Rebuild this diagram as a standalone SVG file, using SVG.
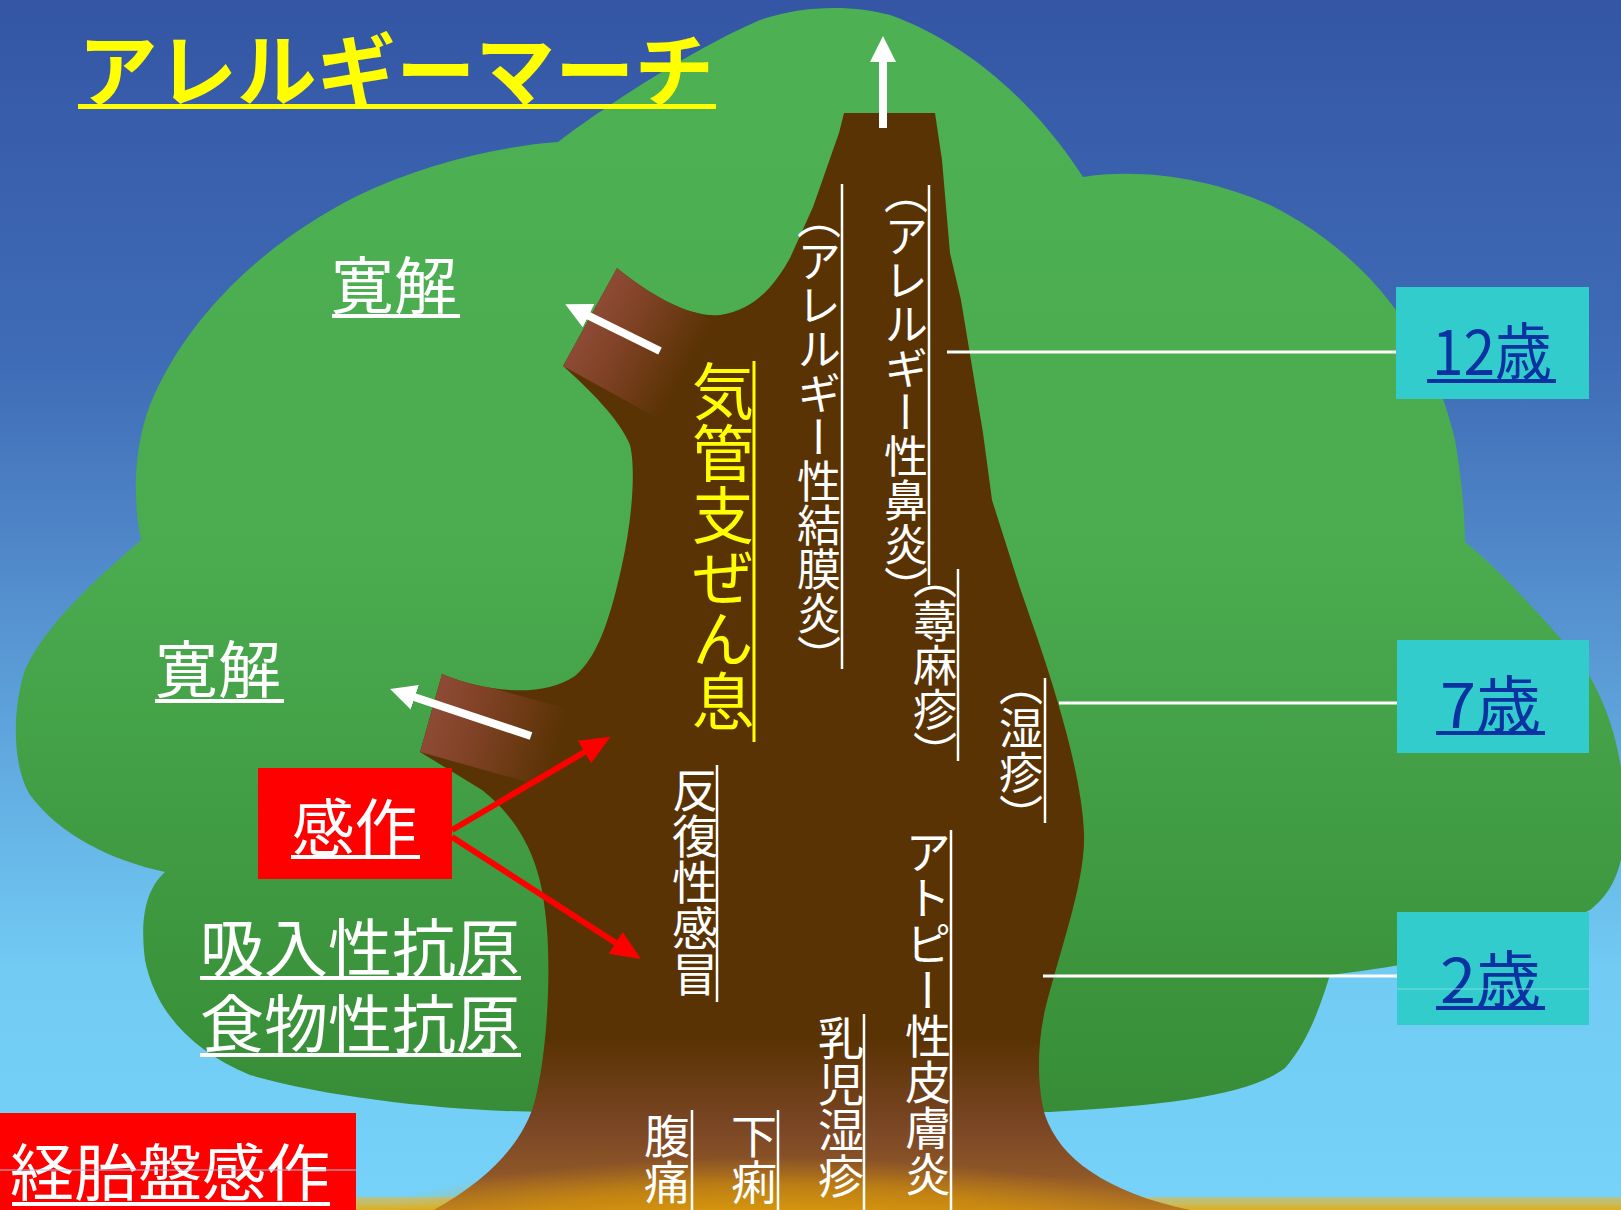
<svg xmlns="http://www.w3.org/2000/svg" width="1621" height="1210" viewBox="0 0 1621 1210">
  <style>
    .jp { font-family: "Noto Sans CJK JP", "Noto Sans", sans-serif; }
    .wt { fill: #ffffff; }
    .vt { font-family: "Noto Sans CJK JP", sans-serif; fill: #ffffff; font-size: 44px; writing-mode: vertical-rl; font-feature-settings: "vhal" 1; }
    .vrule { stroke: #ffffff; stroke-width: 2.5; }
    .age-box { fill: #33cccc; }
    .age-txt { font-family: "Noto Sans CJK JP", sans-serif; fill: #0a32a0; font-size: 62px; }
    .age-ul { fill: #0a32a0; }
    .ul-w { fill: #ffffff; }
    .lead { stroke: #ffffff; stroke-width: 3; }
    .red-arrow { stroke: #ff0000; stroke-width: 6; fill: none; }
    .white-arrow { stroke: #ffffff; stroke-width: 8; fill: none; }
  </style>
  <defs>
    <linearGradient id="sky" x1="0" y1="0" x2="0" y2="1210" gradientUnits="userSpaceOnUse">
      <stop offset="0" stop-color="#3456a4"/>
      <stop offset="0.3" stop-color="#3f6cb6"/>
      <stop offset="0.5" stop-color="#5590cf"/>
      <stop offset="0.66" stop-color="#64b0e4"/>
      <stop offset="0.8" stop-color="#71cbf3"/>
      <stop offset="1" stop-color="#76d2f8"/>
    </linearGradient>
    <linearGradient id="leaf" x1="0" y1="0" x2="0" y2="1115" gradientUnits="userSpaceOnUse">
      <stop offset="0" stop-color="#4db153"/>
      <stop offset="0.5" stop-color="#4aab4f"/>
      <stop offset="0.78" stop-color="#3f9a41"/>
      <stop offset="1" stop-color="#378d37"/>
    </linearGradient>
    <linearGradient id="bark" x1="0" y1="0" x2="0" y2="1210" gradientUnits="userSpaceOnUse">
      <stop offset="0" stop-color="#5a3304"/>
      <stop offset="0.86" stop-color="#5a3304"/>
      <stop offset="0.93" stop-color="#7a4624"/>
      <stop offset="0.97" stop-color="#8e5628"/>
      <stop offset="1" stop-color="#b87a20"/>
    </linearGradient>
    <!-- reddish cut ends of the branches fading into the bark -->
    <linearGradient id="branchUp" x1="590" y1="317" x2="686" y2="370" gradientUnits="userSpaceOnUse">
      <stop offset="0" stop-color="#8e4a36"/>
      <stop offset="0.35" stop-color="#804226"/>
      <stop offset="1" stop-color="#5a3304"/>
    </linearGradient>
    <linearGradient id="branchLow" x1="431" y1="713" x2="556" y2="748" gradientUnits="userSpaceOnUse">
      <stop offset="0" stop-color="#8e4a36"/>
      <stop offset="0.35" stop-color="#804226"/>
      <stop offset="1" stop-color="#5a3304"/>
    </linearGradient>
    <radialGradient id="glow" cx="770" cy="1225" r="400" gradientUnits="userSpaceOnUse" gradientTransform="translate(770 1225) scale(1 0.17) translate(-770 -1225)">
      <stop offset="0" stop-color="#f0b000" stop-opacity="0.9"/>
      <stop offset="0.6" stop-color="#e2a000" stop-opacity="0.65"/>
      <stop offset="1" stop-color="#e2a000" stop-opacity="0"/>
    </radialGradient>
    <linearGradient id="ground" x1="0" y1="1197" x2="0" y2="1210" gradientUnits="userSpaceOnUse">
      <stop offset="0" stop-color="#b6c38e"/>
      <stop offset="0.5" stop-color="#c8bc60"/>
      <stop offset="1" stop-color="#dcb020"/>
    </linearGradient>
    <path id="trunkShape" d="M 844,113 L 935,113 L 942,160 L 950,253 L 961,300 L 983,433 L 992,500 L 1020,588 L 1038,640
      C 1060,705 1082,780 1084,833 C 1086,880 1060,950 1045,1010 C 1036,1050 1038,1090 1045,1115
      C 1060,1160 1110,1195 1200,1212 L 430,1212 C 490,1180 525,1140 535,1100 C 548,1050 552,960 545,911
      C 540,860 520,820 482,790 L 420,752 L 442,674 C 480,690 540,700 575,676 C 600,655 612,610 622,565
      C 632,520 636,470 630,445 C 620,420 590,390 563,366 L 617,268 C 650,295 690,318 720,315
      C 755,310 775,285 790,258 L 813,207 L 833,150 L 839,133 Z"/>
    <clipPath id="trunkClip"><use href="#trunkShape"/></clipPath>
    <marker id="headRed" viewBox="0 0 30 26" refX="4" refY="13" markerWidth="30" markerHeight="26" markerUnits="userSpaceOnUse" orient="auto">
      <path d="M0,0 L30,13 L0,26 Z" fill="#ff0000"/>
    </marker>
    <marker id="headWhite" viewBox="0 0 26 26" refX="4" refY="13" markerWidth="26" markerHeight="26" markerUnits="userSpaceOnUse" orient="auto">
      <path d="M0,0 L26,13 L0,26 Z" fill="#ffffff"/>
    </marker>
  </defs>

  <!-- sky -->
  <rect x="0" y="0" width="1621" height="1210" fill="url(#sky)"/>

  <!-- crown of the tree -->
  <g id="canopy">
    <path fill="url(#leaf)" d="M 545,1112
      C 450,1111 330,1098 250,1075 C 190,1050 155,1010 145,960 C 140,920 145,890 165,872
      C 110,860 60,835 30,795 C 12,765 12,710 25,670 C 45,625 95,580 141,540
      C 133,500 133,450 150,405 C 185,320 260,245 357,196 C 420,165 500,146 558,142
      C 600,110 690,50 760,20 C 800,6 850,4 890,15 C 960,40 1030,95 1083,177
      C 1140,168 1210,178 1270,205 C 1360,250 1430,330 1455,440 C 1462,480 1465,520 1465,542
      C 1500,570 1540,615 1575,655 C 1610,700 1625,760 1625,820 C 1625,870 1610,895 1590,910
      C 1530,940 1440,962 1330,975 C 1322,1000 1310,1040 1285,1068 C 1250,1095 1170,1105 1050,1112 Z"/>
  </g>

  <!-- ground and glow at the trunk base -->
  <rect x="0" y="1197" width="1621" height="13" fill="url(#ground)"/>
  <ellipse cx="770" cy="1225" rx="430" ry="70" fill="url(#glow)"/>

  <!-- trunk with two cut branches -->
  <g id="trunk">
    <use href="#trunkShape" fill="url(#bark)"/>
    <g clip-path="url(#trunkClip)">
      <polygon points="617,268 563,366 686,434 740,336" fill="url(#branchUp)"/>
      <polygon points="442,674 420,752 574,795 596,717" fill="url(#branchLow)"/>
      <ellipse cx="770" cy="1225" rx="430" ry="70" fill="url(#glow)" opacity="0.7"/>
    </g>
  </g>

  <!-- title -->
  <g id="title">
    <text class="jp" x="78" y="100" font-size="80" font-weight="bold" fill="#ffff00" textLength="636" lengthAdjust="spacingAndGlyphs">アレルギーマーチ</text>
    <rect x="78" y="104" width="638" height="5" fill="#ffff00"/>
  </g>

  <!-- connectors -->
  <g id="connectors">
    <line class="lead" x1="947" y1="352" x2="1396" y2="352"/>
    <line class="lead" x1="1059" y1="703" x2="1397" y2="703"/>
    <line class="lead" x1="1043" y1="976" x2="1397" y2="976"/>
    <line class="white-arrow" x1="883" y1="128" x2="883" y2="58" marker-end="url(#headWhite)"/>
    <line class="white-arrow" x1="660" y1="351" x2="585" y2="314" marker-end="url(#headWhite)"/>
    <line class="white-arrow" x1="531" y1="736" x2="411" y2="696" marker-end="url(#headWhite)"/>
    <line class="red-arrow" x1="452" y1="830" x2="588" y2="750" marker-end="url(#headRed)"/>
    <line class="red-arrow" x1="452" y1="837" x2="619" y2="945" marker-end="url(#headRed)"/>
  </g>

  <!-- remission labels -->
  <g id="remission-upper">
    <text class="jp wt" x="331" y="309" font-size="62" textLength="126" lengthAdjust="spacingAndGlyphs">寛解</text>
    <rect class="ul-w" x="332" y="314" width="128" height="4"/>
  </g>
  <g id="remission-lower">
    <text class="jp wt" x="155" y="693" font-size="62" textLength="126" lengthAdjust="spacingAndGlyphs">寛解</text>
    <rect class="ul-w" x="155" y="699" width="129" height="4"/>
  </g>

  <!-- sensitisation box -->
  <g id="sensitization">
    <rect x="258" y="768" width="194" height="111" fill="#ff0000"/>
    <text class="jp wt" x="292" y="851" font-size="62" textLength="125" lengthAdjust="spacingAndGlyphs">感作</text>
    <rect class="ul-w" x="291" y="855" width="129" height="4"/>
  </g>

  <!-- antigens -->
  <g id="antigens">
    <text class="jp wt" x="200" y="971" font-size="63" textLength="320" lengthAdjust="spacingAndGlyphs">吸入性抗原</text>
    <rect class="ul-w" x="200" y="976" width="321" height="4"/>
    <text class="jp wt" x="200" y="1047" font-size="63" textLength="320" lengthAdjust="spacingAndGlyphs">食物性抗原</text>
    <rect class="ul-w" x="200" y="1053" width="321" height="4"/>
  </g>

  <!-- transplacental sensitisation -->
  <g id="transplacental">
    <rect x="0" y="1113" width="356" height="97" fill="#ff0000"/>
    <text class="jp wt" x="10" y="1196" font-size="62" textLength="320" lengthAdjust="spacingAndGlyphs">経胎盤感作</text>
    <rect class="ul-w" x="12" y="1202" width="318" height="4"/>
    <line x1="0" y1="1170" x2="356" y2="1170" stroke="#9ac8e8" stroke-width="1"/>
  </g>

  <!-- age markers -->
  <g id="age-12">
    <rect class="age-box" x="1396" y="287" width="193" height="112"/>
    <text class="age-txt" x="1432" y="375" textLength="120" lengthAdjust="spacingAndGlyphs">12歳</text>
    <rect class="age-ul" x="1427" y="379" width="129" height="4"/>
  </g>
  <g id="age-7">
    <rect class="age-box" x="1397" y="640" width="192" height="113"/>
    <text class="age-txt" x="1440" y="728" textLength="101" lengthAdjust="spacingAndGlyphs">7歳</text>
    <rect class="age-ul" x="1436" y="731" width="109" height="4"/>
  </g>
  <g id="age-2">
    <rect class="age-box" x="1397" y="912" width="192" height="113"/>
    <text class="age-txt" x="1440" y="1003" textLength="101" lengthAdjust="spacingAndGlyphs">2歳</text>
    <rect class="age-ul" x="1436" y="1006" width="109" height="4"/>
    <line x1="1397" y1="989" x2="1589" y2="989" stroke="#7fdde6" stroke-width="1"/>
  </g>

  <!-- diseases along the trunk (vertical writing) -->
  <g id="asthma">
    <text x="723" y="360" font-size="62" fill="#ffff00" style="font-family:'Noto Sans CJK JP',sans-serif;writing-mode:vertical-rl">気管支ぜん息</text>
    <line x1="754" y1="361" x2="754" y2="742" stroke="#ffff00" stroke-width="3"/>
  </g>
  <g id="conjunctivitis">
    <text class="vt" x="819" y="217">（アレルギー性結膜炎）</text>
    <line class="vrule" x1="842" y1="184" x2="842" y2="669"/>
  </g>
  <g id="rhinitis">
    <text class="vt" x="906" y="192">（アレルギー性鼻炎）</text>
    <line class="vrule" x1="929" y1="185" x2="929" y2="585"/>
  </g>
  <g id="urticaria">
    <text class="vt" x="935" y="577">（蕁麻疹）</text>
    <line class="vrule" x1="958" y1="569" x2="958" y2="761"/>
  </g>
  <g id="eczema">
    <text class="vt" x="1021" y="684">（湿疹）</text>
    <line class="vrule" x1="1045" y1="678" x2="1045" y2="823"/>
  </g>
  <g id="recurrent-cold">
    <text class="vt" x="695" y="767" style="font-size:46px">反復性感冒</text>
    <line class="vrule" x1="717" y1="765" x2="717" y2="1002"/>
  </g>
  <g id="atopic-dermatitis">
    <text class="vt" x="928" y="829" style="font-size:46px">アトピー性皮膚炎</text>
    <line class="vrule" x1="951" y1="830" x2="951" y2="1210"/>
  </g>
  <g id="infant-eczema">
    <text class="vt" x="841" y="1015" style="font-size:46px">乳児湿疹</text>
    <line class="vrule" x1="864" y1="1014" x2="864" y2="1210"/>
  </g>
  <g id="diarrhea">
    <text class="vt" x="754" y="1113" style="font-size:46px">下痢</text>
    <line class="vrule" x1="778" y1="1110" x2="778" y2="1210"/>
  </g>
  <g id="abdominal-pain">
    <text class="vt" x="667" y="1113" style="font-size:46px">腹痛</text>
    <line class="vrule" x1="692" y1="1110" x2="692" y2="1210"/>
  </g>
</svg>
